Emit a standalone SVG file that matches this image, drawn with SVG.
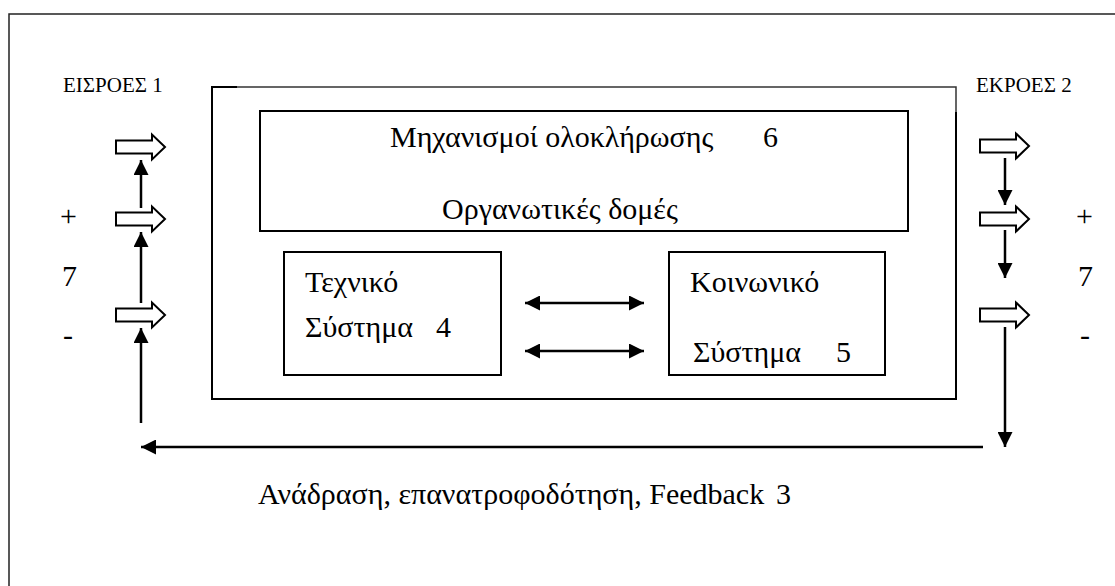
<svg xmlns="http://www.w3.org/2000/svg" width="1115" height="586" viewBox="0 0 1115 586">
  <style>
    .box { fill: none; stroke: #000; stroke-width: 2; }
    .frame { fill: none; stroke: #222; stroke-width: 1.5; }
    .t { font-family: 'Liberation Serif', 'DejaVu Serif', serif; fill: #000; }
    .big { font-size: 30px; }
    .small { font-size: 21px; }
    .line { stroke: #000; stroke-width: 2.5; fill: none; }
    .block { fill: #fff; stroke: #000; stroke-width: 2; stroke-linejoin: miter; }
  </style>
  <defs>
    <marker id="head" viewBox="0 0 10 10" refX="10" refY="5" markerWidth="6" markerHeight="6" orient="auto" markerUnits="strokeWidth">
      <path d="M0,0 L10,5 L0,10 z" fill="#000"/>
    </marker>
    <marker id="headStart" viewBox="0 0 10 10" refX="0" refY="5" markerWidth="6" markerHeight="6" orient="auto" markerUnits="strokeWidth">
      <path d="M10,0 L0,5 L10,10 z" fill="#000"/>
    </marker>
    <path id="blockArrow" class="block" d="M0,-6.5 H36 V-12.5 L49,0 L36,12.5 V6.5 H0 Z"/>
  </defs>

  <rect width="1115" height="586" fill="#fff"/>

  <!-- page frame -->
  <path class="frame" d="M9,600 V14 H1130"/>

  <!-- organisation boundary -->
  <g id="organisation">
    <path class="box" d="M956,112 V399 H212 V87 H237"/>
    <path d="M237,87 H956 V112" fill="none" stroke="#333" stroke-width="1.5"/>
  </g>

  <g id="integration">
    <rect class="box" x="260" y="111" width="648" height="120"/>
    <text class="t big" x="390" y="147">Μηχανισμοί ολοκλήρωσης<tspan x="763">6</tspan></text>
    <text class="t big" x="442" y="219">Οργανωτικές δομές</text>
  </g>

  <g id="technical">
    <rect class="box" x="284" y="252" width="217" height="123"/>
    <text class="t big" x="305" y="292">Τεχνικό</text>
    <text class="t big" x="305" y="337">Σύστημα<tspan x="436">4</tspan></text>
  </g>

  <g id="social">
    <rect class="box" x="669" y="252" width="216" height="123"/>
    <text class="t big" x="690" y="292">Κοινωνικό</text>
    <text class="t big" x="693" y="362">Σύστημα<tspan x="836">5</tspan></text>
  </g>

  <g id="inputs">
    <text class="t small" x="63" y="92">ΕΙΣΡΟΕΣ 1</text>
    <use href="#blockArrow" x="116" y="147"/>
    <use href="#blockArrow" x="116" y="219"/>
    <use href="#blockArrow" x="116" y="315"/>
    <text class="t big" x="60" y="226">+</text>
    <text class="t big" x="62" y="286">7</text>
    <text class="t big" x="63" y="345">-</text>
  </g>

  <g id="outputs">
    <text class="t small" x="976" y="92">ΕΚΡΟΕΣ 2</text>
    <use href="#blockArrow" x="980" y="146"/>
    <use href="#blockArrow" x="980" y="219"/>
    <use href="#blockArrow" x="980" y="315"/>
    <text class="t big" x="1076" y="226">+</text>
    <text class="t big" x="1078" y="286">7</text>
    <text class="t big" x="1080" y="345">-</text>
  </g>

  <g id="feedback-label">
    <text class="t big" x="258" y="504">Ανάδραση, επανατροφοδότηση, Feedback<tspan x="776">3</tspan></text>
  </g>

  <g id="connectors">
    <!-- input chain -->
    <line class="line" x1="141" y1="423" x2="141" y2="328" marker-end="url(#head)"/>
    <line class="line" x1="141" y1="303" x2="141" y2="232" marker-end="url(#head)"/>
    <line class="line" x1="141" y1="208" x2="141" y2="160" marker-end="url(#head)"/>
    <!-- output chain -->
    <line class="line" x1="1005" y1="158" x2="1005" y2="205" marker-end="url(#head)"/>
    <line class="line" x1="1005" y1="230" x2="1005" y2="278" marker-end="url(#head)"/>
    <line class="line" x1="1005" y1="327" x2="1005" y2="447" marker-end="url(#head)"/>
    <!-- feedback loop -->
    <line class="line" x1="983" y1="447" x2="141" y2="447" marker-end="url(#head)"/>
    <!-- technical <-> social -->
    <line class="line" x1="525" y1="303" x2="644" y2="303" marker-start="url(#headStart)" marker-end="url(#head)"/>
    <line class="line" x1="525" y1="351" x2="644" y2="351" marker-start="url(#headStart)" marker-end="url(#head)"/>
  </g>
</svg>
